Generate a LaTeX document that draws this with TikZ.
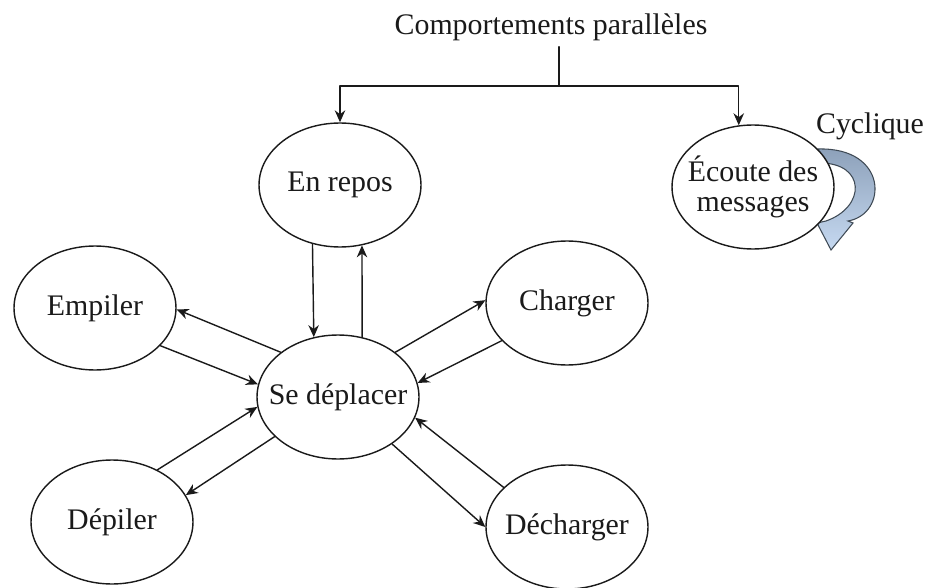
\documentclass[tikz,border=0pt]{standalone}
\usepackage{fontspec}
\setmainfont{Liberation Serif}
\usepackage{tikz}
\usetikzlibrary{arrows.meta,backgrounds,shapes.geometric}
\definecolor{agInk}{HTML}{1A1A1A}
\definecolor{agRibbonDark}{HTML}{8CA0B9}
\definecolor{agRibbonLight}{HTML}{C6D9F1}
\definecolor{agRibbonLine}{HTML}{3F4A55}
\tikzset{
  ag diagram/.style={font=\fontsize{17}{17}\selectfont, text=agInk,
    line cap=round, line join=round},
  ag state/.style={ellipse, draw=agInk, fill=white, line width=0.8pt,
    minimum width=3.24cm, minimum height=2.48cm, inner xsep=-0.3cm,
    inner ysep=0pt, align=center},
  ag arrow/.style={-{Stealth[length=2.4mm,width=2.1mm]}, draw=agInk, line width=0.8pt},
  ag line/.style={draw=agInk, line width=0.8pt},
  ag ribbon/.style={top color=agRibbonDark, bottom color=agRibbonLight,
    draw=agRibbonLine, line width=0.6pt}
}
\begin{document}
\begin{tikzpicture}[ag diagram, x=0.02cm, y=-0.02cm]
\useasboundingbox (0,0) rectangle (930,588);
\node (titre) at (551,27) {Comportements parallèles};
\node[ag state] (repos) at (340,185) {En repos};
\node[ag state] (ecoute) at (753,187) {Écoute des\\messages};
\node[ag state] (empiler) at (95,308) {Empiler};
\node[ag state] (charger) at (567,303) {Charger};
\node[ag state] (depl) at (338,397) {Se déplacer};
\node[ag state] (depiler) at (112,522) {Dépiler};
\node[ag state] (decharger) at (567,527) {Décharger};
\node (cyclique) at (870,126) {Cyclique};
\coordinate (fork) at (559,86);
\draw[ag line] (fork |- titre.south) -- (fork);
\draw[ag arrow] (fork) -| (repos.north);
\draw[ag arrow] (fork) -| (ecoute.103);
\draw[ag arrow] (repos.-115) -- (depl.112);
\draw[ag arrow] (depl.68) -- (repos.-70);
\foreach \name/\outA/\inA/\outB/\inB in {empiler/142/-1/-30/171,charger/38/178/-150/10,depiler/-148/20/49/187,decharger/-41/180/148/-15}{
  \draw[ag arrow] (depl.\outA) -- (\name.\inA);
  \draw[ag arrow] (\name.\outB) -- (depl.\inB);
}
\begin{scope}[on background layer]
\shade[ag ribbon] (818,149) .. controls (888,147) and (888,214) .. (848,221)
  -- (853,223) -- (831,250) -- (817,223) -- (826,221)
  .. controls (866,207) and (866,163) .. (820,163) -- cycle;
\end{scope}
\end{tikzpicture}
\end{document}
